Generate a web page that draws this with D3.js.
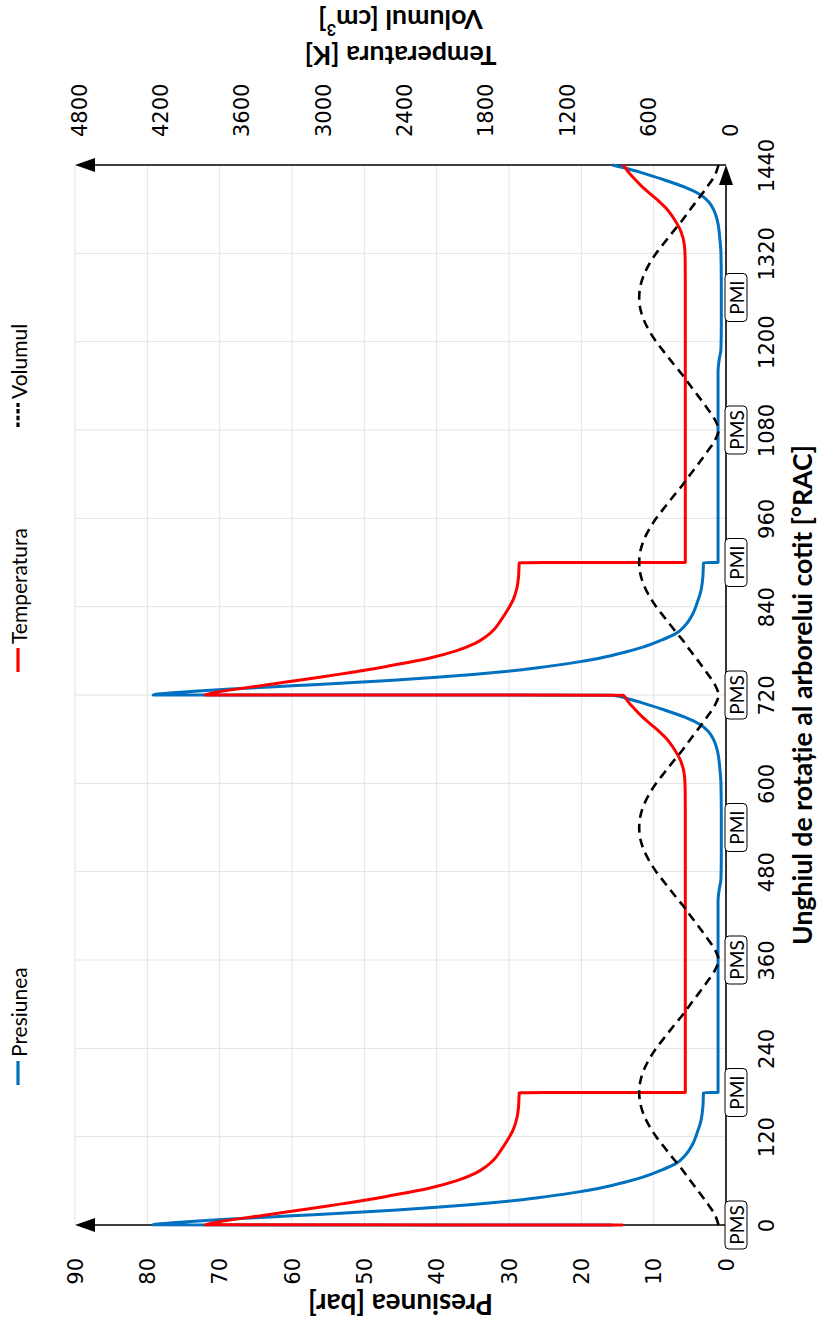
<!DOCTYPE html>
<html>
<head>
<meta charset="utf-8">
<script src="https://cdn.jsdelivr.net/npm/d3@7"></script>
<style>
  html, body { margin: 0; padding: 0; background: #ffffff; }
  svg { display: block; }
</style>
</head>
<body>
<svg id="chart" width="819" height="1319"></svg>
<script>
// Crank angle [°RAC] / cylinder pressure [bar]
const pressureAngle = [
  0, 0.2, 1, 3, 5, 8, 11, 14, 17, 20, 24, 28, 32, 37, 44, 50, 58, 65, 75, 83, 95, 110, 125, 140, 160, 179.8,
  180, 250, 350, 440, 455, 470, 500, 560, 600, 620, 640, 650, 660, 670, 680, 690, 700, 710, 715, 719.8,
  720, 721, 723, 725, 728, 731, 734, 737, 740, 744, 748, 752, 757, 764, 770, 778, 785, 795, 803, 815, 830, 845, 860, 880, 899.8,
  900, 970, 1070, 1160, 1175, 1190, 1220, 1280, 1320, 1340, 1360, 1370, 1380, 1390, 1400, 1410, 1420, 1430, 1435, 1440
];
const pressureValue = [
  15.7, 79.2, 78.8, 76.5, 73.5, 68.5, 63, 57, 51.5, 46, 40, 35, 30.5, 26, 21, 17.5, 14, 11.5, 8.8, 7.0, 5.6, 4.6, 4.0, 3.5, 3.2, 3.1,
  1.1, 1.1, 1.1, 1.1, 0.95, 0.7, 0.65, 0.65, 0.7, 0.85, 1.1, 1.35, 1.75, 2.4, 3.6, 5.7, 8.6, 11.8, 13.6, 15.7,
  79.2, 78.8, 76.5, 73.5, 68.5, 63, 57, 51.5, 46, 40, 35, 30.5, 26, 21, 17.5, 14, 11.5, 8.8, 7.0, 5.6, 4.6, 4.0, 3.5, 3.2, 3.1,
  1.1, 1.1, 1.1, 1.1, 0.95, 0.7, 0.65, 0.65, 0.7, 0.85, 1.1, 1.35, 1.75, 2.4, 3.6, 5.7, 8.6, 11.8, 13.6, 15.7
];

// Crank angle [°RAC] / gas temperature [K]
const temperatureAngle = [
  0, 0.2, 2, 5, 10, 15, 20, 25, 30, 35, 40, 50, 60, 70, 80, 90, 100, 115, 130, 145, 160, 179.8,
  180, 400, 560, 590, 610, 630, 650, 660, 670, 680, 690, 700, 710, 715, 719.8,
  720, 722, 725, 730, 735, 740, 745, 750, 755, 760, 770, 780, 790, 800, 810, 820, 835, 850, 865, 880, 899.8,
  900, 1120, 1280, 1310, 1330, 1350, 1370, 1380, 1390, 1400, 1410, 1420, 1430, 1435, 1440
];
const temperatureValue = [
  760, 3840, 3800, 3720, 3530, 3340, 3150, 2960, 2790, 2620, 2470, 2190, 1990, 1850, 1765, 1705, 1665, 1612, 1568, 1542, 1530, 1524,
  300, 300, 300, 301, 306, 333, 395, 435, 490, 553, 615, 668, 718, 738, 758,
  3840, 3800, 3720, 3530, 3340, 3150, 2960, 2790, 2620, 2470, 2190, 1990, 1850, 1765, 1705, 1665, 1612, 1568, 1542, 1530, 1524,
  300, 300, 300, 301, 306, 333, 395, 435, 490, 553, 615, 668, 718, 738, 758
];

// Cylinder volume [cm³], sampled every 15 °RAC from 0 to 1440
const volumeAngle = d3.range(0, 1441, 15);
const volumeValue = [
  55, 85, 140, 200, 262, 322, 388, 452, 515, 567, 607, 632, 640,
  632, 607, 567, 515, 452, 388, 322, 262, 200, 140, 85, 55,
  85, 140, 200, 262, 322, 388, 452, 515, 567, 607, 632, 640,
  632, 607, 567, 515, 452, 388, 322, 262, 200, 140, 85, 55,
  85, 140, 200, 262, 322, 388, 452, 515, 567, 607, 632, 640,
  632, 607, 567, 515, 452, 388, 322, 262, 200, 140, 85, 55,
  85, 140, 200, 262, 322, 388, 452, 515, 567, 607, 632, 640,
  632, 607, 567, 515, 452, 388, 322, 262, 200, 140, 85, 55
];

// Axis ticks
const angleTicks = [0, 120, 240, 360, 480, 600, 720, 840, 960, 1080, 1200, 1320, 1440];
const pressureTicks = [0, 10, 20, 30, 40, 50, 60, 70, 80, 90];
const tempVolTicks = [0, 600, 1200, 1800, 2400, 3000, 3600, 4200, 4800];

// Dead-centre markers along the crank-angle axis
const deadCentreAngle = [0, 180, 360, 540, 720, 900, 1080, 1260];
const deadCentreLabel = ["PMS", "PMI", "PMS", "PMI", "PMS", "PMI", "PMS", "PMI"];

// Legend
const seriesNames = ["Presiunea", "Temperatura", "Volumul"];
const seriesColors = ["#0070C0", "#FF0000", "#000000"];

// ---------------------------------------------------------------------------
const svg = d3.select("#chart");
const tickFont = "'DejaVu Sans', sans-serif";
const titleFont = "Lato, 'Open Sans', sans-serif";
const fmt = d3.format("d");

// The chart is laid out turned a quarter turn: crank angle runs upward,
// the value axes run leftward.
const yAngle = d3.scaleLinear().domain([0, 1440]).range([1225, 165]);
const xPressure = d3.scaleLinear().domain([0, 90]).range([726, 75]);
const xTempVol = d3.scaleLinear().domain([0, 4800]).range([726, 75]);

// Grid
const grid = svg.append("g").attr("stroke", "#e3e3e3").attr("stroke-width", 1);
grid.selectAll("line.v").data(pressureTicks.filter(d => d > 0)).join("line")
  .attr("x1", d => xPressure(d)).attr("x2", d => xPressure(d))
  .attr("y1", yAngle(1440)).attr("y2", yAngle(0));
grid.selectAll("line.h").data(angleTicks.filter(d => d > 0 && d < 1440)).join("line")
  .attr("x1", xPressure(90)).attr("x2", xPressure(0))
  .attr("y1", d => yAngle(d)).attr("y2", d => yAngle(d));

// Series
const toPoints = (a, v) => a.map((d, i) => [d, v[i]]);
const pressurePts = toPoints(pressureAngle, pressureValue);
const temperaturePts = toPoints(temperatureAngle, temperatureValue);
const volumePts = toPoints(volumeAngle, volumeValue);

const linePressure = d3.line().x(d => xPressure(d[1])).y(d => yAngle(d[0])).curve(d3.curveMonotoneY);
const lineTempVol = d3.line().x(d => xTempVol(d[1])).y(d => yAngle(d[0])).curve(d3.curveMonotoneY);

// Axes lines with arrow heads
const axes = svg.append("g").attr("stroke", "#000").attr("stroke-width", 1.6);
axes.append("line").attr("x1", xPressure(0)).attr("x2", xPressure(90) + 10)
  .attr("y1", yAngle(0)).attr("y2", yAngle(0));
axes.append("line").attr("x1", xPressure(0)).attr("x2", xPressure(90) + 10)
  .attr("y1", yAngle(1440)).attr("y2", yAngle(1440));
axes.append("line").attr("x1", xPressure(0)).attr("x2", xPressure(0))
  .attr("y1", yAngle(0)).attr("y2", yAngle(1440) + 10);

const arrow = (tipX, tipY, dir) => {
  const L = 20, W = 7;
  if (dir === "left") return `M${tipX},${tipY}L${tipX + L},${tipY - W}L${tipX + L},${tipY + W}Z`;
  return `M${tipX},${tipY}L${tipX - W},${tipY + L}L${tipX + W},${tipY + L}Z`;
};
svg.append("path").attr("d", arrow(xPressure(90), yAngle(0), "left")).attr("fill", "#000");
svg.append("path").attr("d", arrow(xPressure(90), yAngle(1440), "left")).attr("fill", "#000");
svg.append("path").attr("d", arrow(xPressure(0), yAngle(1440), "up")).attr("fill", "#000");

svg.append("path").datum(pressurePts).attr("d", linePressure)
  .attr("fill", "none").attr("stroke", seriesColors[0]).attr("stroke-width", 3)
  .attr("stroke-linejoin", "round");
svg.append("path").datum(temperaturePts).attr("d", lineTempVol)
  .attr("fill", "none").attr("stroke", seriesColors[1]).attr("stroke-width", 3)
  .attr("stroke-linejoin", "round");
svg.append("path").datum(volumePts).attr("d", lineTempVol)
  .attr("fill", "none").attr("stroke", seriesColors[2]).attr("stroke-width", 2.6)
  .attr("stroke-dasharray", "9 6");

// Crank-angle tick labels (right side)
const angleAxis = svg.append("g").attr("transform", `translate(${xPressure(0)},0)`)
  .call(d3.axisRight(yAngle).tickValues(angleTicks).tickFormat(fmt).tickSize(0).tickPadding(0));
angleAxis.select(".domain").remove();
angleAxis.selectAll("text")
  .attr("x", null).attr("dy", null)
  .attr("transform", "translate(41,0) rotate(-90)")
  .attr("text-anchor", "middle").attr("dominant-baseline", "central")
  .attr("font-family", tickFont).attr("font-size", 21).attr("fill", "#000");

// Pressure tick labels (bottom)
const pressureAxis = svg.append("g").attr("transform", `translate(0,${yAngle(0)})`)
  .call(d3.axisBottom(xPressure).tickValues(pressureTicks).tickFormat(fmt).tickSize(0).tickPadding(0));
pressureAxis.select(".domain").remove();
pressureAxis.selectAll("text")
  .attr("y", null).attr("dy", null)
  .attr("transform", "translate(0,33) rotate(-90)")
  .attr("text-anchor", "end").attr("dominant-baseline", "central")
  .attr("font-family", tickFont).attr("font-size", 21).attr("fill", "#000");

// Temperature / volume tick labels (top)
const tvAxis = svg.append("g").attr("transform", `translate(0,${yAngle(1440)})`)
  .call(d3.axisTop(xTempVol).tickValues(tempVolTicks).tickFormat(fmt).tickSize(0).tickPadding(0));
tvAxis.select(".domain").remove();
tvAxis.selectAll("text")
  .attr("y", null).attr("dy", null)
  .attr("transform", "translate(4,-28) rotate(-90)")
  .attr("text-anchor", "start").attr("dominant-baseline", "central")
  .attr("font-family", tickFont).attr("font-size", 21).attr("fill", "#000");

// Dead-centre boxes
const dc = svg.append("g").selectAll("g").data(deadCentreAngle).join("g")
  .attr("transform", d => `translate(${xPressure(0) + 10},${yAngle(d)})`);
dc.append("rect").attr("x", -11).attr("y", -24).attr("width", 22).attr("height", 48)
  .attr("rx", 4).attr("fill", "#fff").attr("stroke", "#000").attr("stroke-width", 1);
dc.append("text").text((d, i) => deadCentreLabel[i])
  .attr("transform", "rotate(-90)").attr("text-anchor", "middle").attr("dominant-baseline", "central")
  .attr("font-family", titleFont).attr("font-size", 19).attr("fill", "#000");

// Axis titles
function fit(sel, len) {
  const l = sel.node().getComputedTextLength();
  const fs = +sel.attr("font-size");
  sel.attr("font-size", fs * len / l);
}
const angleTitle = svg.append("text")
  .text("Unghiul de rotație al arborelui cotit [°RAC]")
  .attr("transform", `translate(802,${(yAngle(0) + yAngle(1440)) / 2}) rotate(-90)`)
  .attr("text-anchor", "middle").attr("dominant-baseline", "central")
  .attr("font-family", titleFont).attr("font-weight", "bold").attr("font-size", 21);
fit(angleTitle, 500);

const pTitle = svg.append("text")
  .text("Presiunea [bar]")
  .attr("transform", `translate(${(xPressure(0) + xPressure(90)) / 2},1304) rotate(180)`)
  .attr("text-anchor", "middle").attr("dominant-baseline", "central")
  .attr("font-family", titleFont).attr("font-weight", "bold").attr("font-size", 21);
fit(pTitle, 185);

const tTitle = svg.append("text")
  .text("Temperatura [K]")
  .attr("transform", `translate(${(xPressure(0) + xPressure(90)) / 2},56) rotate(180)`)
  .attr("text-anchor", "middle").attr("dominant-baseline", "central")
  .attr("font-family", titleFont).attr("font-weight", "bold").attr("font-size", 21);
fit(tTitle, 192);
const titleSize = +tTitle.attr("font-size");

const vTitle = svg.append("text")
  .attr("transform", `translate(${(xPressure(0) + xPressure(90)) / 2},20) rotate(180)`)
  .attr("text-anchor", "middle").attr("dominant-baseline", "central")
  .attr("font-family", titleFont).attr("font-weight", "bold").attr("font-size", titleSize);
vTitle.append("tspan").text("Volumul [cm");
vTitle.append("tspan").text("3").attr("font-size", titleSize * 0.62).attr("dy", -titleSize * 0.38);
vTitle.append("tspan").text("]").attr("dy", titleSize * 0.38);

// Legend (reads bottom to top along the left edge)
const legendStart = [1085, 672, 427];
const legend = svg.append("g");
seriesNames.forEach((name, i) => {
  const y0 = legendStart[i];
  legend.append("line").attr("x1", 18).attr("x2", 18).attr("y1", y0).attr("y2", y0 - 24)
    .attr("stroke", seriesColors[i]).attr("stroke-width", 3.2)
    .attr("stroke-dasharray", i === 2 ? "4.5 2.2" : null);
  legend.append("text").text(name)
    .attr("transform", `translate(18,${y0 - 28}) rotate(-90)`)
    .attr("text-anchor", "start").attr("dominant-baseline", "central")
    .attr("font-family", titleFont).attr("font-size", 21);
});
</script>
</body>
</html>
